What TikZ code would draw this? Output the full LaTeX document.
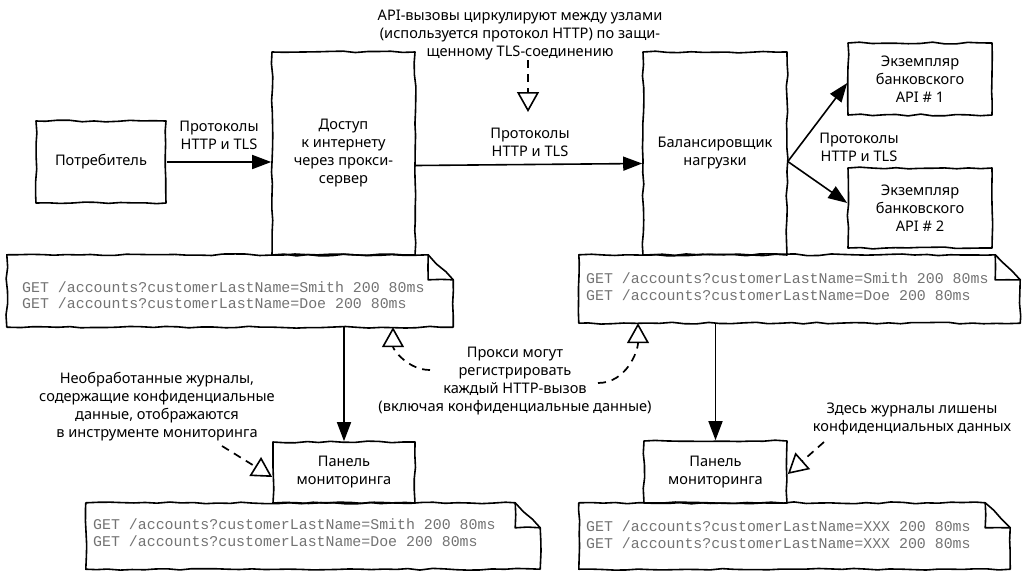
\documentclass[tikz,border=0pt]{standalone}
\usepackage{fontspec}
\setmainfont{Noto Sans}
\setmonofont{Liberation Mono}
\usetikzlibrary{arrows.meta,decorations.pathmorphing}

\newcommand\sketchlabelfont{\fontsize{14.6}{18}\selectfont}
\newcommand\sketchlogfont{\ttfamily\fontsize{14.9}{16.5}\selectfont}

% note with a folded top-right corner, drawn round a named node
\newcommand\sketchnote[1]{%
  \draw[sketch] (#1.north west) -- ([xshift=-25pt]#1.north east)
        -- ([yshift=-25pt]#1.north east) -- (#1.south east)
        -- (#1.south west) -- cycle;
  \draw[sketch] ([xshift=-25pt]#1.north east) |- ([yshift=-25pt]#1.north east);
}

\begin{document}
\begin{tikzpicture}[x=1pt,y=-1pt,
  sketch/.style={decorate, decoration={random steps, segment length=12pt, amplitude=0.9pt},
                 line width=1.6pt, line join=round, line cap=round},
  box/.style={draw, sketch, align=center, font=\sketchlabelfont, inner sep=0pt},
  notebox/.style={inner sep=0pt},
  lbl/.style={align=center, font=\sketchlabelfont, inner sep=0pt},
  logtxt/.style={align=left, font=\sketchlogfont, text=black!55, inner sep=0pt},
  flow/.style={line width=1.6pt, -{Triangle[length=19pt,width=14pt]}},
  hint/.style={line width=1.7pt, dash pattern=on 8pt off 6pt,
               -{Triangle[open,length=20pt,width=22pt,line width=1.6pt]}},
]
\useasboundingbox (0,0) rectangle (1022,571);
\pgfmathsetseed{7}

% main boxes
\node[box, minimum width=130, minimum height=82] (cons) at (101,162) {Потребитель};
\node[box, minimum width=143, minimum height=203] (proxy) at (343.5,153.5)
  {Доступ\\к интернету\\через прокси-\\сервер};
\node[box, minimum width=144, minimum height=203] (lb) at (715,153.5)
  {Балансировщик\\нагрузки};
\node[box, minimum width=144, minimum height=72] (api1) at (920,79)
  {Экземпляр\\банковского\\API \# 1};
\node[box, minimum width=144, minimum height=80] (api2) at (920,208)
  {Экземпляр\\банковского\\API \# 2};
\node[box, minimum width=142, minimum height=61] (panel1) at (344,472.5)
  {Панель\\мониторинга};
\node[box, minimum width=143, minimum height=62] (panel2) at (715.5,472)
  {Панель\\мониторинга};

% log notes
\node[notebox, minimum width=446, minimum height=72] (note1) at (230,291) {};
\node[notebox, minimum width=441, minimum height=68] (note2) at (799.5,289) {};
\node[notebox, minimum width=454, minimum height=66] (note3) at (313,536) {};
\node[notebox, minimum width=431, minimum height=66] (note4) at (794.5,536) {};
\sketchnote{note1}
\sketchnote{note2}
\sketchnote{note3}
\sketchnote{note4}

\node[logtxt, anchor=west] (log1) at (22,295)
  {GET /accounts?customerLastName=Smith 200 80ms\\GET /accounts?customerLastName=Doe 200 80ms};
\node[logtxt, anchor=west] (log2) at (586,286.5)
  {GET /accounts?customerLastName=Smith 200 80ms\\GET /accounts?customerLastName=Doe 200 80ms};
\node[logtxt, anchor=west] (log3) at (93,532.5)
  {GET /accounts?customerLastName=Smith 200 80ms\\GET /accounts?customerLastName=Doe 200 80ms};
\node[logtxt, anchor=west] (log4) at (586,534.5)
  {GET /accounts?customerLastName=XXX 200 80ms\\GET /accounts?customerLastName=XXX 200 80ms};

% labels
\node[lbl] (tls1) at (219,135) {Протоколы\\HTTP и TLS};
\node[lbl] (tls2) at (530,142) {Протоколы\\HTTP и TLS};
\node[lbl] (tls3) at (859,147) {Протоколы\\HTTP и TLS};
\node[lbl] (apitxt) at (520,35)
  {API-вызовы циркулируют между узлами\\(используется протокол HTTP) по защи-\\щенному TLS-соединению};
\node[lbl] (proxytxt) at (515,381)
  {Прокси могут\\регистрировать\\каждый HTTP-вызов\\(включая конфиденциальные данные)};
\node[lbl] (rawtxt) at (157,407)
  {Необработанные журналы,\\содержащие конфиденциальные\\данные, отображаются\\в инструменте мониторинга};
\node[lbl] (cleantxt) at (912,419)
  {Здесь журналы лишены\\конфиденциальных данных};

% request flow
\draw[flow] (cons.east) -- (proxy.west |- cons.east);
\draw[flow] ([yshift=-12pt]proxy.east) -- ([yshift=-10pt]lb.west);
\draw[flow] ([yshift=-8pt]lb.east) -- ([yshift=-4pt]api1.west);
\draw[flow] ([yshift=-8pt]lb.east) -- ([yshift=5pt]api2.west);
\draw[flow] (panel1.north |- note1.south) -- (panel1.north);
\draw[flow] (panel2.north |- note2.south) -- (panel2.north);

% annotation pointers
\coordinate (tlsdrop) at (528,112);
\coordinate (lefthint) at (430,370);
\coordinate (righthint) at (598,383);
\coordinate (rawhint) at (222,446);
\coordinate (cleanhint) at (824,442);
\draw[hint] (apitxt.south -| tlsdrop) -- (tlsdrop);
\draw[hint] (lefthint) to[out=180,in=-90] (note1.south -| 393,0);
\draw[hint] (righthint) to[out=0,in=-90] (note2.south -| 638,0);
\draw[hint] (rawhint) -- (panel1.west |- 0,477);
\draw[hint] (cleanhint) -- (panel2.east |- 0,474);
\end{tikzpicture}
\end{document}
